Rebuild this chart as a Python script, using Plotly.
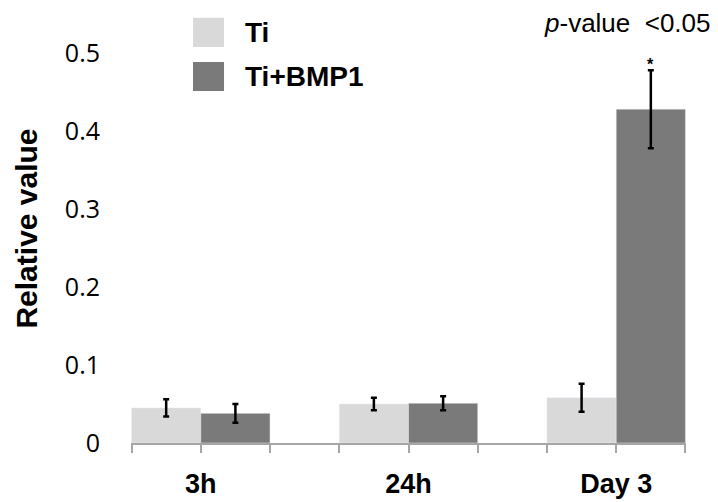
import plotly.graph_objects as go

categories = ["3h", "24h", "Day 3"]
cat_pos = [0, 1, 2]
ti_values = [0.045, 0.050, 0.058]
ti_errors = [0.011, 0.008, 0.018]
bmp_values = [0.038, 0.051, 0.428]
bmp_errors = [0.012, 0.009, 0.050]
series_names = ["Ti", "Ti+BMP1"]
y_ticks = [0, 0.1, 0.2, 0.3, 0.4, 0.5]
y_ticktext = ["0", "0.1", "0.2", "0.3", "0.4", "0.5"]
edge_ticks = [-1/3, 1/3, 2/3, 4/3, 5/3, 7/3]

ti_color = "#d9d9d9"
bmp_color = "#7a7a7a"
err_style = dict(type="data", color="black", thickness=2.5, width=3)

fig = go.Figure()
fig.add_trace(go.Bar(x=cat_pos, y=ti_values, name=series_names[0], marker_color=ti_color,
                     error_y=dict(array=ti_errors, **err_style), showlegend=False))
fig.add_trace(go.Bar(x=cat_pos, y=bmp_values, name=series_names[1], marker_color=bmp_color,
                     error_y=dict(array=bmp_errors, **err_style), showlegend=False))

# page body has an 8px default margin; compensate so the plot sits where the reference does
fig.update_layout(
    width=710, height=494,
    margin=dict(l=123, r=32, t=6, b=59),
    paper_bgcolor="white", plot_bgcolor="white",
    barmode="group", bargap=1/3, bargroupgap=0,
    font=dict(family="Liberation Sans, Arial, sans-serif", color="black"),
)
fig.update_xaxes(
    range=[-0.336, 2.336], automargin=False,
    tickmode="array", tickvals=cat_pos, ticktext=[f"<b>{c}</b>" for c in categories],
    tickfont=dict(size=27, family="Liberation Sans, Arial"),
    showline=True, linecolor="#a6a6a6", linewidth=2,
    ticks="outside", ticklen=8, tickcolor="#a6a6a6", tickwidth=2,
    ticklabelstandoff=8,
    minor=dict(tickvals=edge_ticks, ticks="outside", ticklen=8, tickcolor="#a6a6a6", tickwidth=2),
    showgrid=False, zeroline=False,
)
fig.update_yaxes(
    range=[0, 0.55], automargin=False,
    tickmode="array", tickvals=y_ticks, ticktext=y_ticktext,
    tickfont=dict(size=25, family="Open Sans, Liberation Sans"),
    showline=False, showgrid=False, zeroline=False, ticks="",
    ticklabelstandoff=30,
    title=dict(text="<b>Relative value</b>", font=dict(size=30, family="Liberation Sans, Arial"), standoff=18),
)

# legend drawn manually
fig.add_shape(type="rect", xref="paper", yref="paper", x0=0.1117, x1=0.1676, y0=0.923, y1=0.991,
              fillcolor=ti_color, line=dict(width=0))
fig.add_shape(type="rect", xref="paper", yref="paper", x0=0.1117, x1=0.1676, y0=0.8205, y1=0.888,
              fillcolor=bmp_color, line=dict(width=0))
fig.add_annotation(xref="paper", yref="paper", x=0.2018, y=0.957, xanchor="left", yanchor="middle",
                   text=f"<b>{series_names[0]}</b>", showarrow=False, font=dict(size=28))
fig.add_annotation(xref="paper", yref="paper", x=0.2018, y=0.854, xanchor="left", yanchor="middle",
                   text=f"<b>{series_names[1]}</b>", showarrow=False, font=dict(size=28))

fig.add_annotation(xref="paper", yref="paper", x=1.0486, y=0.979, xanchor="right", yanchor="middle",
                   text="<i>p</i>-value  &lt;0.05", showarrow=False, font=dict(size=26))
fig.add_annotation(x=2 + 1/6, y=bmp_values[2] + bmp_errors[2], yanchor="bottom", yshift=-5,
                   text="<b>*</b>", showarrow=False, font=dict(size=16))

fig.write_html("out.html")
